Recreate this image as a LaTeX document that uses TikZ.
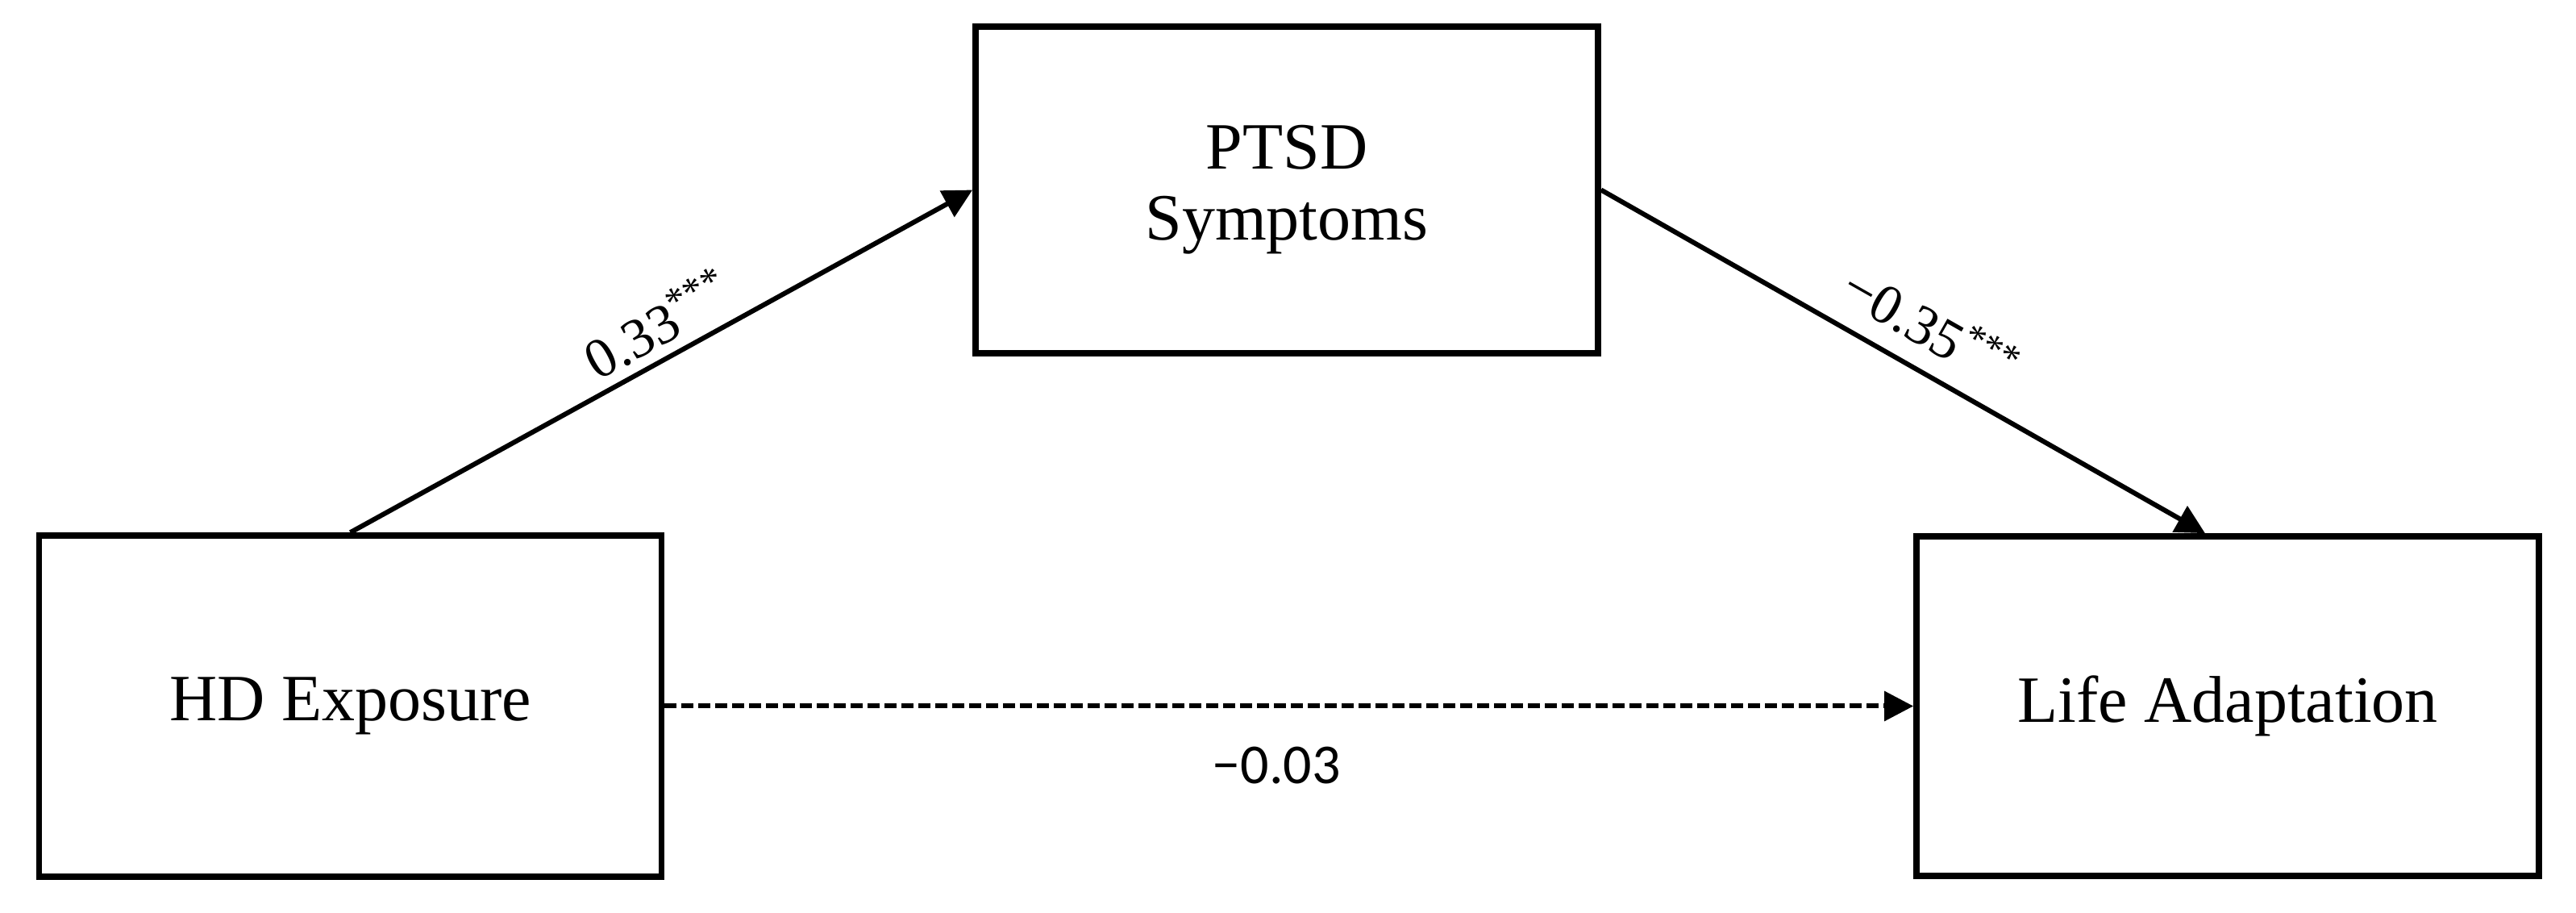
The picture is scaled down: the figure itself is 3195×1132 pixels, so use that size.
\documentclass[tikz,border=0pt]{standalone}
\usepackage{fontspec}
\setmainfont{Liberation Serif}
\newfontfamily\calibrifont{Carlito}
\usetikzlibrary{arrows.meta}

\begin{document}
\begin{tikzpicture}[x=0.25pt,y=-0.25pt,
    varbox/.style={draw=black,line width=1.9pt,rectangle,minimum width=193pt,
        align=center,font=\fontsize{20.5}{22}\selectfont},
    effect/.style={draw=black,line width=1.5pt,-{Triangle[length=9pt,width=9pt]}},
    coef/.style={inner sep=0pt,font=\fontsize{17.4}{20}\selectfont}]
    \useasboundingbox (0,0) rectangle (3195,1132);
    % variables
    \node[varbox,minimum height=105.75pt] (hd) at (434.5,875.5) {HD Exposure};
    \node[varbox,minimum height=101.25pt] (ptsd) at (1596,235.5) {PTSD\\Symptoms};
    \node[varbox,minimum height=105.25pt] (life) at (2763,875.5) {Life Adaptation};
    % paths
    \draw[effect] (hd.north) -- node[coef,sloped,above=3pt,pos=0.52] {0.33\textsuperscript{***}} (ptsd.west);
    \draw[effect] (ptsd.east) -- node[coef,sloped,above=6pt,pos=0.51] {−0.35\textsuperscript{***}} ([xshift=-7pt]life.north);
    \draw[effect,dash pattern=on 3.75pt off 1.5pt] (hd.east) -- node[coef,below=12pt,pos=0.49,font=\calibrifont\fontsize{17.5}{20}\selectfont] {−0.03} (life.west);
\end{tikzpicture}
\end{document}
